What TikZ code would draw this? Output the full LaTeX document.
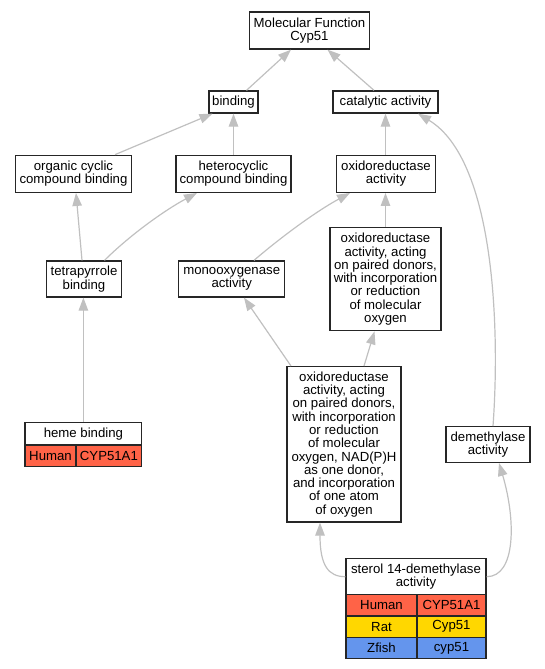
\documentclass[tikz,border=0pt]{standalone}
\usepackage{fontspec}
\setmainfont{Liberation Sans}
\usetikzlibrary{arrows.meta}
\definecolor{edgegray}{HTML}{C0C0C0}
\definecolor{human}{HTML}{FF6347}
\definecolor{rat}{HTML}{FFD700}
\definecolor{zfish}{HTML}{6495ED}
\begin{document}
\begin{tikzpicture}[x=1pt,y=-1pt,
  term/.style={draw=black!85, line width=1.3pt, fill=white, inner sep=0pt, align=center,
    font=\fontsize{13.2}{13.3}\selectfont},
  cell/.style={draw=black!85, line width=1.3pt, inner sep=0pt, align=center,
    font=\fontsize{13.2}{13.3}\selectfont},
  edge/.style={draw=edgegray, line width=1.2pt, -{Triangle[length=13pt,width=9.5pt]}, color=edgegray}]
\useasboundingbox (0,0) rectangle (545,669);

% nodes
\node[term, minimum width=120pt, minimum height=37pt] (mf) at (309.5,30.5) {Molecular Function\\Cyp51};
\node[term, minimum width=49pt, minimum height=22pt] (bind) at (233.5,102) {binding};
\node[term, minimum width=105pt, minimum height=22pt] (cat) at (385.5,102) {catalytic activity};
\node[term, minimum width=115.5pt, minimum height=37pt] (org) at (73.5,173.8) {organic cyclic\\compound binding};
\node[term, minimum width=115pt, minimum height=37pt] (het) at (233.5,173.8) {heterocyclic\\compound binding};
\node[term, minimum width=99pt, minimum height=37pt] (oxi) at (386,173.8) {oxidoreductase\\activity};
\node[term, minimum width=74.5pt, minimum height=36pt] (tet) at (84,279) {tetrapyrrole\\binding};
\node[term, minimum width=106pt, minimum height=36pt] (mono) at (231.7,279) {monooxygenase\\activity};
\node[term, minimum width=111pt, minimum height=103pt] (oxp) at (385.5,279.2) {oxidoreductase\\activity, acting\\on paired donors,\\with incorporation\\or reduction\\of molecular\\oxygen};
\node[term, minimum width=114pt, minimum height=155.3pt] (big) at (344,444.3) {oxidoreductase\\activity, acting\\on paired donors,\\with incorporation\\or reduction\\of molecular\\oxygen, NAD(P)H\\as one donor,\\and incorporation\\of one atom\\of oxygen};
\node[term, minimum width=84pt, minimum height=35.6pt] (dem) at (488,444.5) {demethylase\\activity};

% heme binding table
\node[term, minimum width=116.8pt, minimum height=22.3pt] (heme) at (83.4,433.9) {heme binding};
\node[cell, fill=human, minimum width=51pt, minimum height=21.7pt] (hemeh) at (50.5,455.9) {Human};
\node[cell, fill=human, minimum width=65.8pt, minimum height=21.7pt] (hemeg) at (108.9,455.9) {CYP51A1};

% sterol table
\node[term, minimum width=140pt, minimum height=36pt] (ster) at (416,576.7) {sterol 14-demethylase\\activity};
\node[cell, fill=human, minimum width=71pt, minimum height=21.3pt] (sh) at (381.5,605.35) {Human};
\node[cell, fill=human, minimum width=69pt, minimum height=21.3pt] (shg) at (451.5,605.35) {CYP51A1};
\node[cell, fill=rat, minimum width=71pt, minimum height=21.3pt] (sr) at (381.5,626.65) {Rat};
\node[cell, fill=rat, minimum width=69pt, minimum height=21.3pt] (srg) at (451.5,626.65) {Cyp51};
\node[cell, fill=zfish, minimum width=71pt, minimum height=21.3pt] (sz) at (381.5,647.95) {Zfish};
\node[cell, fill=zfish, minimum width=69pt, minimum height=21.3pt] (szg) at (451.5,647.95) {cyp51};

% edges
\draw[edge] ([xshift=13pt]bind.north) -- ([xshift=-18.5pt]mf.south);
\draw[edge] ([xshift=-11.5pt]cat.north) -- ([xshift=18pt]mf.south);
\draw[edge] ([xshift=41.5pt]org.north) -- ([xshift=-21pt]bind.south);
\draw[edge] (het.north) -- (bind.south);
\draw[edge] (oxi.north -| cat.south) -- (cat.south);
\draw[edge] ([xshift=5pt]dem.north) .. controls (500,330) and (495,160) .. ([xshift=32.5pt]cat.south);
\draw[edge] ([xshift=-2pt]tet.north) -- ([xshift=2.5pt]org.south);
\draw[edge] ([xshift=20.5pt]tet.north) .. controls (130,235) and (165,210) .. ([xshift=-36.5pt]het.south);
\draw[edge] ([xshift=22.3pt]mono.north) .. controls (280,238) and (315,212) .. ([xshift=-36pt]oxi.south);
\draw[edge] (oxp.north) -- (oxp.north |- oxi.south);
\draw[edge] (heme.north) -- (heme.north |- tet.south);
\draw[edge] ([xshift=-53pt]big.north) -- ([xshift=12.3pt]mono.south);
\draw[edge] ([xshift=20pt]big.north) -- ([xshift=-11pt]oxp.south);
\draw[edge] (ster.west) .. controls (328,576.7) and (320,565) .. ([xshift=-24pt]big.south);
\draw[edge] (ster.east) .. controls (516,576.7) and (516,520) .. ([xshift=11pt]dem.south);
\end{tikzpicture}
\end{document}
